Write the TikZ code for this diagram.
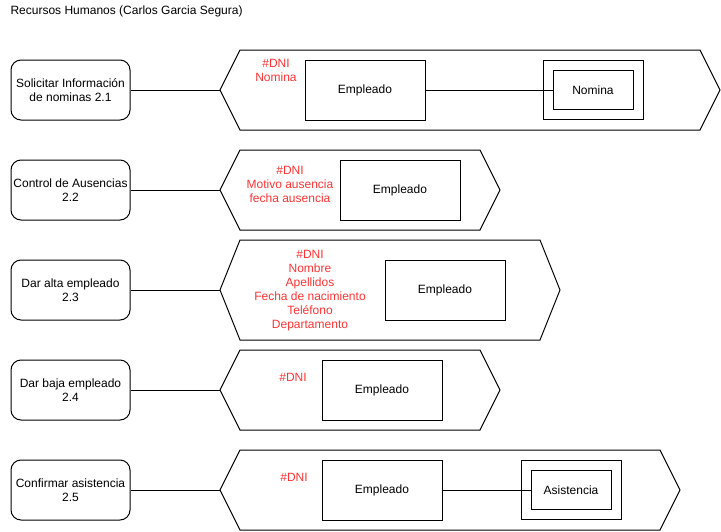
\documentclass[tikz,border=0pt]{standalone}
\usepackage{fontspec}
\setmainfont{Liberation Sans}
\newcommand\dfs{\fontsize{12}{14}\selectfont}
\definecolor{redtxt}{RGB}{255,51,51}
\begin{document}
\begin{tikzpicture}[x=1pt,y=-1pt,line width=1pt,
  proc/.style={draw, rounded corners=10pt, minimum width=119pt, minimum height=60pt, align=center, inner sep=1pt, font=\dfs},
  ent/.style={draw, minimum width=120pt, minimum height=60pt, font=\dfs},
  wbox/.style={draw, minimum width=100pt, minimum height=59pt},
  wkent/.style={draw, minimum width=80pt, minimum height=39pt, font=\dfs},
  attr/.style={text=redtxt, align=center, font=\dfs, inner sep=0pt},
  hexa/.style={draw, line join=miter}
]
\useasboundingbox (0,0) rectangle (721,531);
\node[anchor=west, font=\dfs, inner sep=0pt] (title) at (10,11) {Recursos Humanos (Carlos Garcia Segura)};

% Row 1
\node[proc] (p1) at (70.5,90) {Solicitar Información\\de nominas 2.1};
\draw[hexa] (220,90) coordinate (h1) -- (240,50) -- (700,50) -- (720,90) -- (700,130) -- (240,130) -- cycle;
\draw (p1) -- (h1);
\node[attr] (a1) at (276,70) {\#DNI\\Nomina};
\node[ent] (e1) at (365,90) {Empleado};
\node[wbox] (w1) at (593,90) {};
\node[wkent] (n1) at (593,90) {Nomina};
\draw (e1.east) -- (n1.west);

% Row 2
\node[proc] (p2) at (70.5,190) {Control de Ausencias\\2.2};
\draw[hexa] (220,190) coordinate (h2) -- (240,150) -- (480,150) -- (500,190) -- (480,230) -- (240,230) -- cycle;
\draw (p2) -- (h2);
\node[attr] (a2) at (290,184) {\#DNI\\Motivo ausencia\\fecha ausencia};
\node[ent] (e2) at (400,190) {Empleado};

% Row 3
\node[proc] (p3) at (70.5,290) {Dar alta empleado\\2.3};
\draw[hexa] (220,290) coordinate (h3) -- (240,240) -- (540,240) -- (560,290) -- (540,340) -- (240,340) -- cycle;
\draw (p3) -- (h3);
\node[attr] (a3) at (310,291) {\#DNI\\Nombre\\Apellidos\\Fecha de nacimiento\\Teléfono\\Departamento};
\node[ent] (e3) at (445,290) {Empleado};

% Row 4
\node[proc] (p4) at (70.5,390) {Dar baja empleado\\2.4};
\draw[hexa] (220,390) coordinate (h4) -- (240,350) -- (480,350) -- (500,390) -- (480,430) -- (240,430) -- cycle;
\draw (p4) -- (h4);
\node[attr] (a4) at (293,377) {\#DNI};
\node[ent] (e4) at (382,390) {Empleado};

% Row 5
\node[proc] (p5) at (70.5,490) {Confirmar asistencia\\2.5};
\draw[hexa] (220,490) coordinate (h5) -- (240,450) -- (660,450) -- (680,490) -- (660,530) -- (240,530) -- cycle;
\draw (p5) -- (h5);
\node[attr] (a5) at (294,477) {\#DNI};
\node[ent] (e5) at (382,490) {Empleado};
\node[wbox] (w5) at (571,490) {};
\node[wkent] (n5) at (571,490) {Asistencia};
\draw (e5.east) -- (n5.west);
\end{tikzpicture}
\end{document}
